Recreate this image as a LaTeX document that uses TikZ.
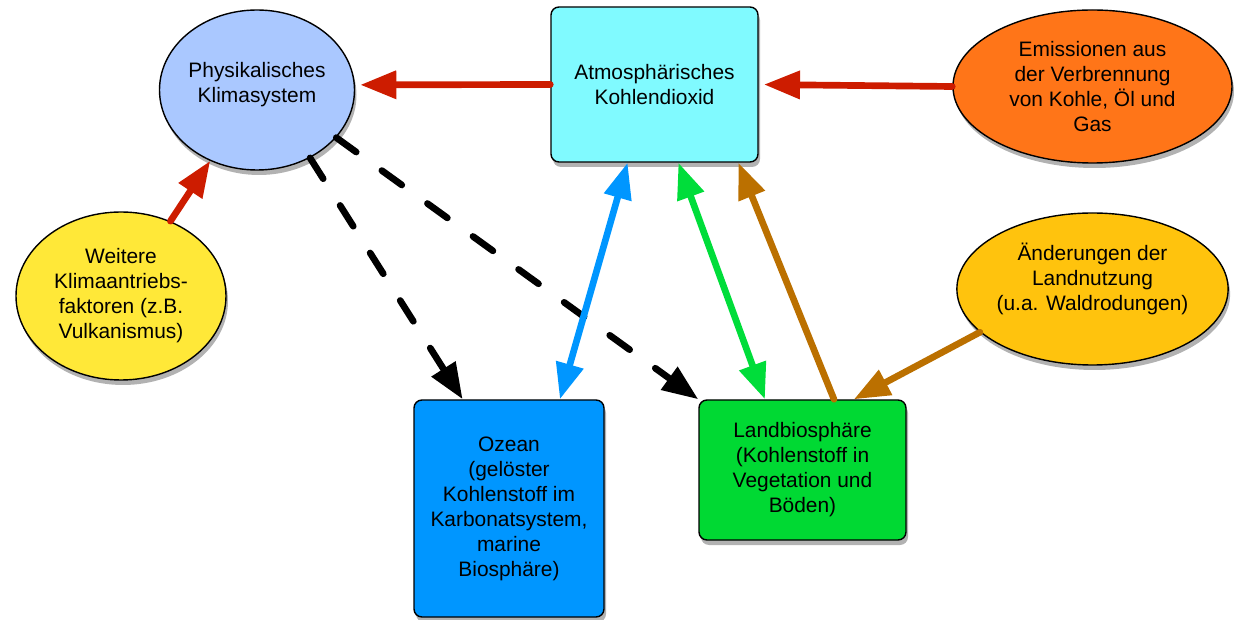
\documentclass[tikz,border=0pt]{standalone}
\usepackage{fontspec}
\setmainfont{Liberation Sans}
\usetikzlibrary{shapes.geometric,arrows.meta,shadows}
\definecolor{physblue}{HTML}{AAC8FF}
\definecolor{atmoscyan}{HTML}{80FAFF}
\definecolor{emisorange}{HTML}{FF7518}
\definecolor{forceyellow}{HTML}{FFE838}
\definecolor{landgold}{HTML}{FFC30D}
\definecolor{oceanblue}{HTML}{0096FF}
\definecolor{biogreen}{HTML}{00D933}
\definecolor{arrowred}{HTML}{CD1C00}
\definecolor{arrowgreen}{HTML}{00DD3A}
\definecolor{arrowbrown}{HTML}{BB7000}
\begin{document}
\begin{tikzpicture}[
  every node/.style={align=center, inner sep=0pt, line width=0.8pt,
    font=\fontsize{11.9}{14.2}\selectfont,
    drop shadow={shadow xshift=0.04cm, shadow yshift=-0.1cm, opacity=0.3, fill=black}},
  box/.style={draw, rectangle, rounded corners=0.16cm},
  oval/.style={draw, ellipse},
  flow/.style={line width=3.8pt, line cap=round, -{Triangle[length=0.72cm,width=0.54cm]}},
  twoway/.style={line width=3.8pt, {Triangle[length=0.72cm,width=0.54cm]}-{Triangle[length=0.72cm,width=0.54cm]}},
  dashflow/.style={flow, dash pattern=on 14pt off 18pt}
]
\useasboundingbox (0,0) rectangle (24.68,12.38);

\node[oval, fill=physblue, minimum width=3.9cm, minimum height=3.2cm, text depth=0.3cm] (phys) at (5.14,10.58) {Physikalisches\\Klimasystem};
\node[box, fill=atmoscyan, minimum width=4.14cm, minimum height=3.1cm] (atmos) at (13.09,10.69) {Atmosphärisches\\Kohlendioxid};
\node[oval, fill=emisorange, minimum width=5.58cm, minimum height=3.06cm] (emis) at (21.85,10.65) {Emissionen aus\\der Verbrennung\\von Kohle, Öl und\\Gas};
\node[oval, fill=forceyellow, minimum width=4.2cm, minimum height=3.36cm] (weitere) at (2.42,6.46) {Weitere\\Klimaantriebs-\\faktoren (z.B.\\Vulkanismus)};
\node[oval, fill=landgold, minimum width=5.42cm, minimum height=3.04cm, text depth=0.5cm] (aend) at (21.85,6.6) {Änderungen der\\Landnutzung\\(u.a. Waldrodungen)};
\node[box, fill=oceanblue, minimum width=3.8cm, minimum height=4.34cm] (ozean) at (10.18,2.21) {Ozean\\(gelöster\\Kohlenstoff im\\Karbonatsystem,\\marine\\Biosphäre)};
\node[box, fill=biogreen, minimum width=4.14cm, minimum height=2.8cm] (land) at (16.05,2.98) {Landbiosphäre\\(Kohlenstoff in\\Vegetation und\\Böden)};

\draw[flow, arrowred, shorten >=3pt] (atmos.west) -- (phys.3);
\draw[flow, arrowred, shorten >=3pt] (emis.west) -- (atmos.east);
\draw[flow, arrowred] (weitere) -- (phys);
\draw[dashflow] (phys.-52) -- (ozean.113);
\draw[dashflow] (phys.-31) -- (land.north west);
\draw[twoway, oceanblue] (atmos.-109.5) -- (ozean.65);
\draw[twoway, arrowgreen] (atmos.-73) -- (land.118);
\draw[flow, arrowbrown] (land.66) -- (atmos.-43);
\draw[flow, arrowbrown] (aend.201) -- (land.54);
\end{tikzpicture}
\end{document}
